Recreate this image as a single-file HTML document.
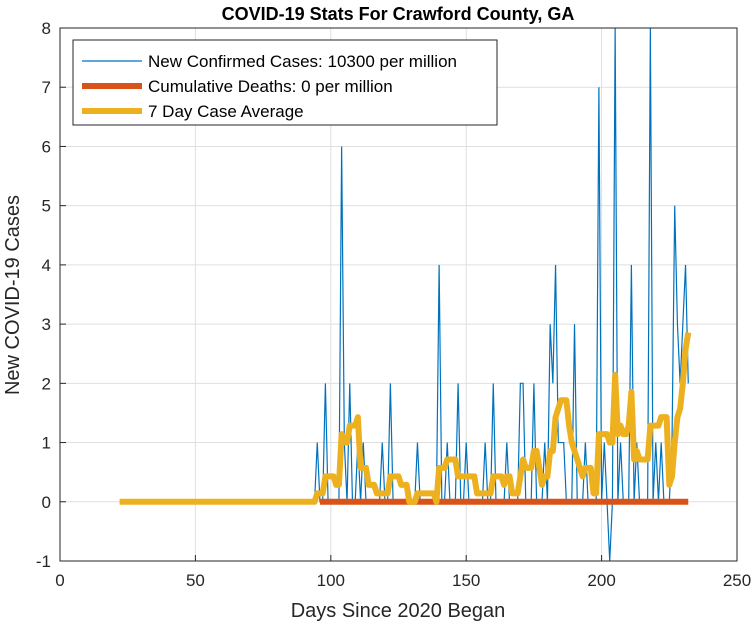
<!DOCTYPE html>
<html><head><meta charset="utf-8"><style>
body{margin:0;background:#fff;}
svg{display:block;font-family:"Liberation Sans",sans-serif;}
</style></head><body>
<svg id="c" width="756" height="630"></svg>
<script>
const startDay = 94;
const dailyCases = [0,1,0,0,2,0,0,0,0,0,6,1,0,2,0,0,1,0,1,0,0,0,0,0,0,1,0,0,2,0,0,0,0,0,0,0,0,0,1,0,0,0,0,0,0,0,4,0,0,1,0,0,0,2,0,0,1,0,0,0,0,0,0,1,0,0,2,0,0,0,0,1,0,0,0,0,2,2,0,0,0,2,0,0,0,1,0,3,2,4,1,1,1,0,0,0,3,0,0,0,1,0,0,0,0,7,0,1,0,-1,0,8,0,1,0,0,0,4,0,1,0,0,0,0,8,0,1,0,1,0,0,0,1,5,3,2,3,4,2];
const avgStartDay = 22;
const deathStartDay = 96;
const deathEndDay = 232;
const xTicks = [0,50,100,150,200,250];
const yTicks = [-1,0,1,2,3,4,5,6,7,8];
const legendLabels = ["New Confirmed Cases: 10300 per million","Cumulative Deaths: 0 per million","7 Day Case Average"];

const L=60,R=737,T=28,B=561;
const xs=d=>L+(d-0)/(250-0)*(R-L);
const ys=v=>B-(v+1)/(9)*(B-T);
const svg=document.getElementById('c');
const NS='http://www.w3.org/2000/svg';
function mk(t,a,p){const e=document.createElementNS(NS,t);for(const k in a)e.setAttribute(k,a[k]);(p||svg).appendChild(e);return e;}
mk('rect',{x:L,y:T,width:R-L,height:B-T,fill:'#fff'});
xTicks.forEach(t=>{const g=mk('line',{x1:xs(t),x2:xs(t),y1:T,y2:B,stroke:'#dfdfdf'});
 const tx=mk('text',{x:xs(t),y:B+25,'text-anchor':'middle','font-size':17,fill:'#262626'});tx.textContent=t;
 mk('line',{x1:xs(t),x2:xs(t),y1:B,y2:B-6,stroke:'#262626'});});
yTicks.forEach(t=>{const g=mk('line',{x1:L,x2:R,y1:ys(t),y2:ys(t),stroke:'#dfdfdf'});
 const tx=mk('text',{x:L-9,y:ys(t)+6,'text-anchor':'end','font-size':17,fill:'#262626'});tx.textContent=t;
 mk('line',{x1:L,x2:L+6,y1:ys(t),y2:ys(t),stroke:'#262626'});});
const avg=[];for(let d=avgStartDay;d<startDay;d++)avg.push([d,0]);
dailyCases.forEach((v,i)=>{let s=0;for(let k=Math.max(0,i-6);k<=i;k++)s+=dailyCases[k];avg.push([startDay+i,s/7]);});
const blue=mk('polyline',{points:dailyCases.map((v,i)=>xs(startDay+i)+','+ys(v)).join(' '),fill:'none',stroke:'#0072bd','stroke-width':1.2});

const red=mk('line',{x1:xs(deathStartDay),x2:xs(deathEndDay),y1:ys(0),y2:ys(0),stroke:'#d95319','stroke-width':6});

const yel=mk('polyline',{points:avg.map(p=>xs(p[0])+','+ys(p[1])).join(' '),fill:'none',stroke:'#edb120','stroke-width':6,'stroke-linejoin':'round'});

mk('rect',{x:L,y:T,width:R-L,height:B-T,fill:'none',stroke:'#262626'});
const lg=mk('g',{});
mk('rect',{x:73,y:40,width:424,height:85,fill:'#fff',stroke:'#262626'},lg);
const cols=['#0072bd','#d95319','#edb120'],wd=[1.2,6,6];
legendLabels.forEach((s,i)=>{const y=61+i*25;mk('line',{x1:82,x2:142,y1:y,y2:y,stroke:cols[i],'stroke-width':wd[i]},lg);
 const t=mk('text',{x:148,y:y+6,'font-size':17,fill:'#000'},lg);t.textContent=s;});
const ti=mk('text',{x:398,y:20,'text-anchor':'middle','font-size':18,'font-weight':'bold',fill:'#000'});ti.textContent='COVID-19 Stats For Crawford County, GA';
const xl=mk('text',{x:398,y:617,'text-anchor':'middle','font-size':20,fill:'#262626'});xl.textContent='Days Since 2020 Began';
const yl=mk('text',{x:0,y:0,'text-anchor':'middle','font-size':20,fill:'#262626',transform:'translate(19,295) rotate(-90)'});yl.textContent='New COVID-19 Cases';
</script>
</body></html>
